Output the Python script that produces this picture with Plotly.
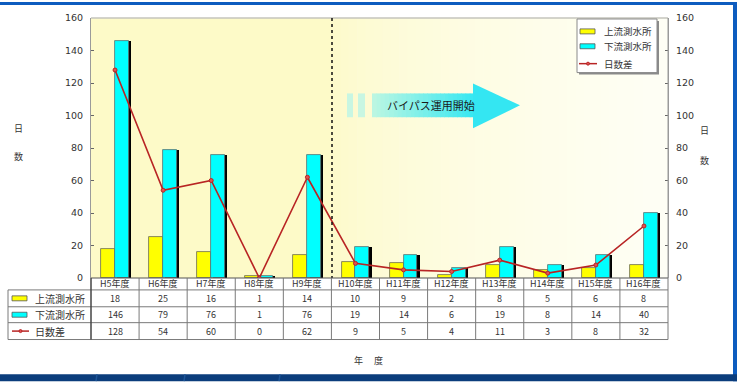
import plotly.graph_objects as go

# ---- data ----
years = ["H5年度", "H6年度", "H7年度", "H8年度", "H9年度", "H10年度",
         "H11年度", "H12年度", "H13年度", "H14年度", "H15年度", "H16年度"]
upstream = [18, 25, 16, 1, 14, 10, 9, 2, 8, 5, 6, 8]          # 上流測水所
downstream = [146, 79, 76, 1, 76, 19, 14, 6, 19, 8, 14, 40]    # 下流測水所
day_diff = [128, 54, 60, 0, 62, 9, 5, 4, 11, 3, 8, 32]         # 日数差
series_names = ["上流測水所", "下流測水所", "日数差"]
y_ticks = [0, 20, 40, 60, 80, 100, 120, 140, 160]

W, H = 737, 382
L, R, T, B = 91, 668, 16, 278          # plot area in pixels
PW, PH = R - L, B - T

JP = "Noto Sans CJK JP"
NUM = "DejaVu Sans"


def px(xp):
    return (xp - L) / PW


def py(yp):
    return (B - yp) / PH


xs = list(range(len(years)))
fig = go.Figure()

# bars: upstream (yellow), shadow, downstream (cyan)
fig.add_bar(x=xs, y=upstream, width=0.29, offset=-0.29,
            marker=dict(color="#ffff00", line=dict(color="#6a6a50", width=0.8)),
            showlegend=False, hoverinfo="skip")
fig.add_bar(x=xs, y=downstream, width=0.29, offset=0.045,
            marker=dict(color="#000000", line=dict(width=0)),
            showlegend=False, hoverinfo="skip")
fig.add_bar(x=xs, y=downstream, width=0.29, offset=0.0,
            marker=dict(color="#00ffff", line=dict(color="#5a7070", width=0.8)),
            showlegend=False, hoverinfo="skip")
fig.add_scatter(x=xs, y=day_diff, yaxis="y2", mode="lines+markers",
                line=dict(color="#b82424", width=1.6),
                marker=dict(symbol="circle", size=4, color="#e05050",
                            line=dict(color="#b82424", width=1)),
                showlegend=False, hoverinfo="skip")

shapes = []
ann = []


def rect(x0, y0, x1, y1, fill, line_color=None, lw=0, layer="above"):
    shapes.append(dict(type="rect", xref="paper", yref="paper",
                       x0=px(x0), x1=px(x1), y0=py(y0), y1=py(y1),
                       fillcolor=fill, layer=layer,
                       line=dict(color=line_color or fill, width=lw)))


def line(x0, y0, x1, y1, color="#7a7a7a", lw=1, dash=None, layer="above"):
    d = dict(color=color, width=lw)
    if dash:
        d["dash"] = dash
    shapes.append(dict(type="line", xref="paper", yref="paper",
                       x0=px(x0), x1=px(x1), y0=py(y0), y1=py(y1),
                       line=d, layer=layer))


def text(x, y, s, size=9, color="#222222", family=JP, xanchor="center"):
    ann.append(dict(xref="paper", yref="paper", x=px(x), y=py(y), text=s,
                    showarrow=False, xanchor=xanchor, yanchor="middle",
                    font=dict(family=family, size=size, color=color)))


# plot background: pale yellow left part, fading toward white on the right
split = 332
rect(L, T, split, B, "rgb(253,250,200)", layer="below")
n = 40
for i in range(n):
    x0 = split + (R - split) * i / n
    x1 = split + (R - split) * (i + 1) / n + 0.6
    t = ((i + 0.5) / n) ** 0.6
    c = (253 + 2 * t, 250 + 5 * t, 200 + 46 * t)
    rect(x0, T, min(x1, R), B, "rgb(%d,%d,%d)" % c, layer="below")

# frame lines of the plot area
line(L, T, R, T, "#c4c4bc", 1.5)
line(R, T, R, B, "#9a9a9a", 1)

# bypass start marker
line(split, T, split, B, "#111111", 1.5, dash="3px,3px")

# arrow with gradient body
rect(347, 92, 353, 116, "rgb(200,246,226)")
rect(358, 92, 365, 116, "rgb(200,246,226)")
ns = 24
bx0, bx1 = 372, 474
for i in range(ns):
    a = bx0 + (bx1 - bx0) * i / ns
    b = bx0 + (bx1 - bx0) * (i + 1) / ns + 0.6
    t = (i + 0.5) / ns
    c = (190 - 135 * t, 247 - 15 * t, 226 + 16 * t)
    rect(a, 92, b, 116, "rgb(%d,%d,%d)" % c)
head = "M %f,%f L %f,%f L %f,%f Z" % (px(473), py(82), px(520), py(104), px(473), py(127))
shapes.append(dict(type="path", xref="paper", yref="paper", path=head,
                   fillcolor="rgb(52,230,242)", line=dict(width=0), layer="above"))
text(431, 104, "バイパス運用開始", size=11, color="#1a1a1a")

# legend box (top right)
rect(579, 19, 659, 73, "#8a8a8a")
rect(577, 17, 657, 71, "#ffffff", "#8a8a8a", 1)
rect(580, 27, 595, 32, "#ffff00", "#555555", 0.8)
text(602, 29.5, series_names[0], size=9.5, color="#333333", xanchor="left")
rect(580, 42, 595, 47, "#00ffff", "#555555", 0.8)
text(602, 44.5, series_names[1], size=9.5, color="#333333", xanchor="left")
line(579, 62, 597, 62, "#b82424", 1.5)
shapes.append(dict(type="circle", xref="paper", yref="paper",
                   x0=px(586.5), x1=px(589.5), y0=py(63.5), y1=py(60.5),
                   fillcolor="#e05050", line=dict(color="#b82424", width=1)))
text(602, 62, series_names[2], size=9.5, color="#333333", xanchor="left")

# data table under the chart
cw = PW / len(years)
rows_y = [290, 307, 323, 340]
line(L, B, R, B, "#555555", 1)
for yv in rows_y:
    line(8, yv, R, yv, "#7a7a7a", 1)
line(8, 290, 8, 340, "#7a7a7a", 1)
line(L, B, L, 340, "#444444", 1.5)
for i in range(1, len(years) + 1):
    xv = L + cw * i
    line(xv, B, xv, 340, "#7a7a7a", 1)

for i, yname in enumerate(years):
    cx = L + cw * (i + 0.5)
    text(cx, 284, yname, size=9, color="#333333")
    text(cx, 298.5, str(upstream[i]), size=9, color="#333333")
    text(cx, 315, str(downstream[i]), size=9, color="#333333")
    text(cx, 331.5, str(day_diff[i]), size=9, color="#333333")

rect(12, 296, 27, 301, "#ffff00", "#555555", 0.8)
text(33, 298.5, series_names[0], size=10, color="#333333", xanchor="left")
rect(12, 312.5, 27, 317.5, "#00ffff", "#555555", 0.8)
text(33, 315, series_names[1], size=10, color="#333333", xanchor="left")
line(12, 331.5, 29, 331.5, "#b82424", 1.5)
shapes.append(dict(type="circle", xref="paper", yref="paper",
                   x0=px(19), x1=px(22), y0=py(333), y1=py(330),
                   fillcolor="#e05050", line=dict(color="#b82424", width=1)))
text(33, 331.5, series_names[2], size=10, color="#333333", xanchor="left")

# axis titles
text(18, 127, "日", size=9, color="#333333")
text(18, 156, "数", size=9, color="#333333")
text(704, 129, "日", size=9, color="#333333")
text(704, 160, "数", size=9, color="#333333")
text(358, 361, "年", size=9, color="#333333")
text(378, 361, "度", size=9, color="#333333")

# outer blue frame
rect(0, 0, W, 3, "#0d5cbf")
rect(733, 0, W, H, "#0d5cbf")
rect(0, 375, W, H, "#0b3d7c")
for xs_ in (97, 185, 280):
    line(xs_, 375, xs_ - 1, H, "#1d5597", 1.5)

axis_common = dict(range=[0, 160], tickvals=y_ticks, ticks="inside", ticklen=3,
                   tickcolor="#666666", showline=True, linecolor="#9a9a9a",
                   linewidth=1, showgrid=False, zeroline=False,
                   tickfont=dict(family=NUM, size=9.5, color="#333333"),
                   ticklabelstandoff=5, fixedrange=True)

fig.update_layout(
    width=W, height=H,
    margin=dict(l=L, r=W - R, t=T, b=H - B, pad=0),
    paper_bgcolor="#ffffff", plot_bgcolor="#ffffff",
    barmode="overlay", bargap=0,
    xaxis=dict(range=[-0.5, len(years) - 0.5], showticklabels=False,
               showgrid=False, zeroline=False, showline=False, ticks="",
               fixedrange=True),
    yaxis=dict(**axis_common, side="left"),
    yaxis2=dict(**axis_common, side="right", overlaying="y"),
    shapes=shapes, annotations=ann,
    showlegend=False,
)

fig.write_html("out.html")
